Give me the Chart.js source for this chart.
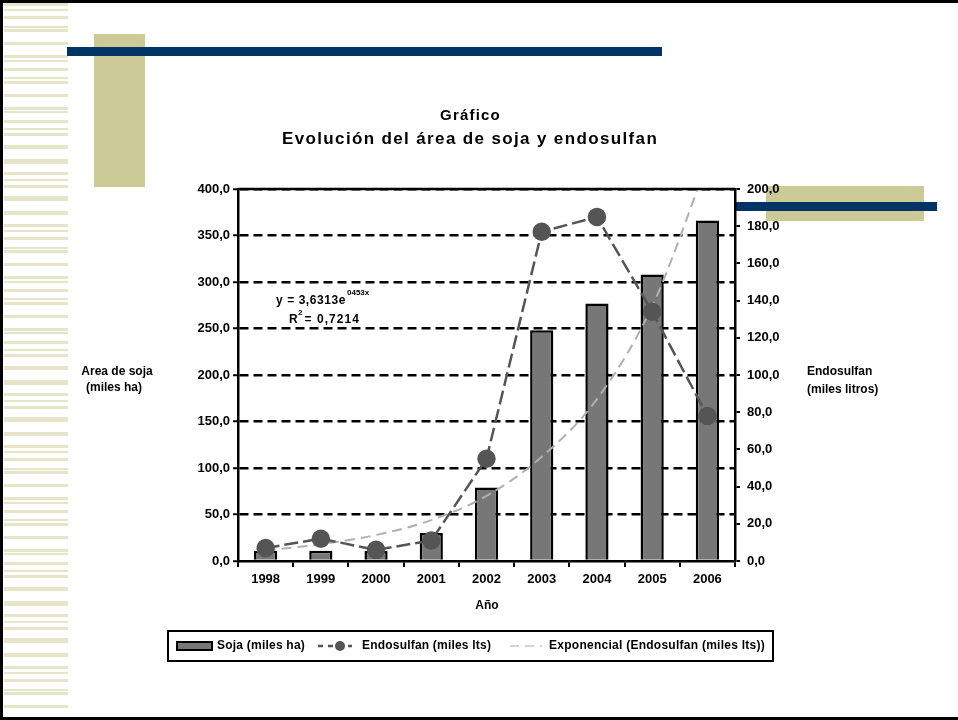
<!DOCTYPE html>
<html>
<head>
<meta charset="utf-8">
<script src="https://cdn.jsdelivr.net/npm/chart.js@4.4.0/dist/chart.umd.min.js"></script>
<style>
  html, body { margin: 0; padding: 0; background: #fff; }
  #page { position: relative; width: 958px; height: 720px; overflow: hidden; }
  .deco { position: absolute; }
  #stripes {
    left: 4px; top: 3px; width: 64px; height: 714px;
    background:
      repeating-linear-gradient(to bottom, #e6e4c9 0 3px, transparent 3px 13px),
      repeating-linear-gradient(to bottom, transparent 0 6px, #e6e4c9 6px 8px, transparent 8px 17px);
  }
  canvas { position: absolute; left: 0; top: 0; }
</style>
</head>
<body>
<div id="page">
  <div class="deco" id="stripes"></div>
  <div class="deco" style="left:0;top:0;width:3px;height:720px;background:#000"></div>
  <div class="deco" style="left:0;top:0;width:958px;height:3px;background:#000"></div>
  <div class="deco" style="left:0;top:717px;width:958px;height:3px;background:#000"></div>
  <div class="deco" style="left:94px;top:34px;width:51px;height:153px;background:#cccb98"></div>
  <div class="deco" style="left:67px;top:47px;width:595px;height:9px;background:#003366"></div>
  <div class="deco" style="left:766px;top:186px;width:158px;height:35px;background:#cccb98"></div>
  <div class="deco" style="left:735px;top:202px;width:202px;height:9px;background:#003366"></div>
  <canvas id="chart" width="958" height="720"></canvas>
</div>
<script>
const years = ['1998', '1999', '2000', '2001', '2002', '2003', '2004', '2005', '2006'];
const soja = [11, 11, 11, 30, 79, 248, 277, 308, 366];
const endosulfan = [7, 12, 6, 11, 55, 177, 185, 134, 78];
const tendencia = [5.7, 9, 14, 22, 35, 56, 87, 137, 214];
const sojaTicks = ['0,0', '50,0', '100,0', '150,0', '200,0', '250,0', '300,0', '350,0', '400,0'];
const endoTicks = ['0,0', '20,0', '40,0', '60,0', '80,0', '100,0', '120,0', '140,0', '160,0', '180,0', '200,0'];

const FONT = '"Liberation Sans", Arial, sans-serif';
const tickFont = { family: FONT, size: 13, weight: 'bold' };

// textos, borde superior y leyenda
const textos = {
  id: 'textos',
  afterDraw(chart) {
    const ctx = chart.ctx;
    const a = chart.chartArea;
    ctx.save();
    ctx.strokeStyle = '#000';
    ctx.lineWidth = 2.5;
    ctx.beginPath();
    ctx.moveTo(a.left, a.top);
    ctx.lineTo(a.right, a.top);
    ctx.stroke();

    ctx.fillStyle = '#000';
    ctx.textBaseline = 'middle';
    const fit = (txt, x, y, w) => {
      const m = ctx.measureText(txt).width;
      ctx.letterSpacing = ((w - m) / txt.length).toFixed(2) + 'px';
      ctx.fillText(txt, x, y);
      ctx.letterSpacing = '0px';
    };
    ctx.textAlign = 'left';
    ctx.font = 'bold 15px ' + FONT;
    fit('Gráfico', 440, 116, 61);
    ctx.font = 'bold 17px ' + FONT;
    fit('Evolución del área de soja y endosulfan', 282, 139, 376);

    ctx.font = 'bold 12px ' + FONT;
    ctx.textAlign = 'center';
    ctx.fillText('Area de soja', 117, 372);
    ctx.fillText('(miles ha)', 114, 388);
    ctx.fillText('Año', 487, 606);
    ctx.textAlign = 'left';
    ctx.fillText('Endosulfan', 807, 372);
    ctx.fillText('(miles litros)', 807, 390);

    ctx.font = 'bold 12px ' + FONT;
    fit('y = 3,6313e', 276, 301, 70);
    ctx.font = 'bold 8px ' + FONT;
    ctx.fillText('0453x', 347, 293);
    ctx.font = 'bold 12px ' + FONT;
    ctx.fillText('R', 289, 320);
    ctx.font = 'bold 8px ' + FONT;
    ctx.fillText('2', 298, 313);
    ctx.font = 'bold 12px ' + FONT;
    fit(' = 0,7214', 300, 320, 60);

    // leyenda
    ctx.lineWidth = 2;
    ctx.strokeRect(168, 631, 605, 30);
    const ly = 646;
    ctx.fillStyle = '#777';
    ctx.fillRect(177, 642, 35, 8);
    ctx.strokeStyle = '#000';
    ctx.lineWidth = 2;
    ctx.strokeRect(177, 642, 35, 8);
    ctx.fillStyle = '#000';
    fit('Soja (miles ha)', 217, ly, 88);

    ctx.strokeStyle = '#555';
    ctx.lineWidth = 2.5;
    ctx.setLineDash([5, 5]);
    ctx.beginPath();
    ctx.moveTo(318, ly);
    ctx.lineTo(352, ly);
    ctx.stroke();
    ctx.setLineDash([]);
    ctx.fillStyle = '#555';
    ctx.beginPath();
    ctx.arc(340, ly, 5, 0, Math.PI * 2);
    ctx.fill();
    ctx.fillStyle = '#000';
    fit('Endosulfan (miles lts)', 362, ly, 129);

    ctx.strokeStyle = '#aaa';
    ctx.lineWidth = 1;
    ctx.setLineDash([9, 6]);
    ctx.beginPath();
    ctx.moveTo(510, ly);
    ctx.lineTo(542, ly);
    ctx.stroke();
    ctx.setLineDash([]);
    fit('Exponencial (Endosulfan (miles lts))', 549, ly, 216);
    ctx.restore();
  }
};

new Chart(document.getElementById('chart'), {
  data: {
    labels: years,
    datasets: [
      {
        type: 'line',
        label: 'Endosulfan (miles lts)',
        data: endosulfan,
        yAxisID: 'y1',
        borderColor: '#555',
        borderWidth: 2.5,
        borderDash: [14, 5],
        pointRadius: 8,
        pointBackgroundColor: '#555',
        pointBorderColor: '#555',
        order: 1
      },
      {
        type: 'line',
        label: 'Exponencial (Endosulfan (miles lts))',
        data: tendencia,
        yAxisID: 'y1',
        borderColor: '#b0b0b0',
        borderWidth: 2,
        borderDash: [10, 6],
        cubicInterpolationMode: 'monotone',
        pointRadius: 0,
        order: 2
      },
      {
        type: 'bar',
        label: 'Soja (miles ha)',
        data: soja,
        yAxisID: 'y',
        backgroundColor: '#777',
        borderColor: '#000',
        borderWidth: 2.5,
        categoryPercentage: 1,
        barPercentage: 0.42,
        order: 3
      }
    ]
  },
  options: {
    responsive: false,
    animation: false,
    layout: { padding: { top: 189, left: 0, right: 0, bottom: 0 } },
    plugins: {
      legend: { display: false },
      title: { display: false },
      tooltip: { enabled: false }
    },
    scales: {
      x: {
        offset: true,
        afterFit: (s) => { s.height = 159; },
        grid: { offset: true, drawOnChartArea: false, color: '#000', lineWidth: 2, tickLength: 6 },
        border: { color: '#000', width: 2.5 },
        ticks: { color: '#000', font: tickFont, padding: 5, maxRotation: 0 }
      },
      y: {
        position: 'left',
        min: 0,
        max: 400,
        afterFit: (s) => { s.width = 238; },
        afterBuildTicks: (s) => { s.ticks = sojaTicks.map((t, i) => ({ value: i * 50 })); },
        grid: {
          color: (c) => (c.tick && c.tick.value === 0 ? 'rgba(0,0,0,0)' : '#000'),
          tickColor: '#000',
          lineWidth: 2.5,
          tickWidth: 2,
          tickLength: 5
        },
        border: { color: '#000', width: 2.5, dash: [9, 5] },
        ticks: {
          color: '#000',
          font: tickFont,
          padding: 3,
          callback: (v, i) => sojaTicks[i]
        }
      },
      y1: {
        position: 'right',
        min: 0,
        max: 200,
        afterFit: (s) => { s.width = 223; },
        afterBuildTicks: (s) => { s.ticks = endoTicks.map((t, i) => ({ value: i * 20 })); },
        grid: { drawOnChartArea: false, color: '#000', lineWidth: 2, tickLength: 5 },
        border: { color: '#000', width: 2.5 },
        ticks: {
          color: '#000',
          font: tickFont,
          padding: 7,
          callback: (v, i) => endoTicks[i]
        }
      }
    }
  },
  plugins: [textos]
});
</script>
</body>
</html>
